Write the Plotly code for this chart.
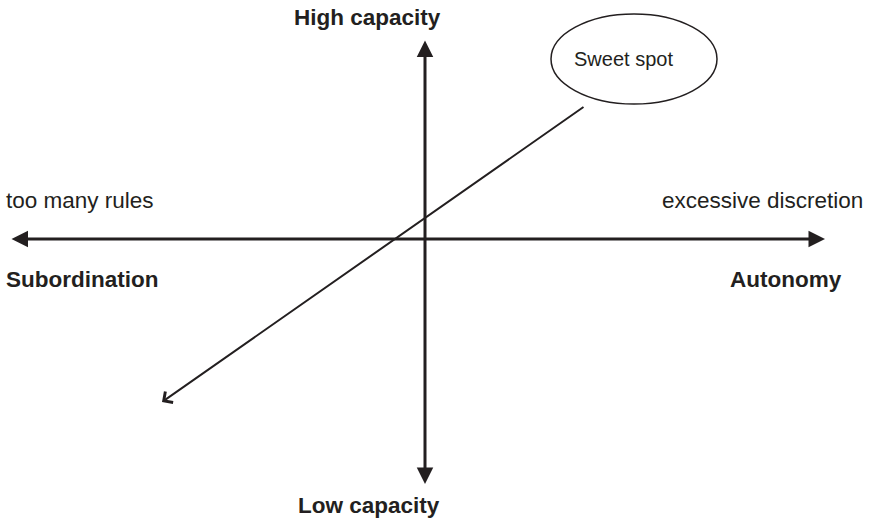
import plotly.graph_objects as go

# Diagram geometry (in a 870 x 521 canvas coordinate system, y downward)
h_axis_x = [10, 825]
h_axis_y = [239, 239]
v_axis_x = [425, 425]
v_axis_y = [39, 484]
diag_x = [585, 162]   # tail, head
diag_y = [106, 402]
ellipse_x = [551, 717]
ellipse_y = [14, 104]

label_text = ["<b>High capacity</b>", "<b>Low capacity</b>", "too many rules",
              "excessive discretion", "<b>Subordination</b>", "<b>Autonomy</b>", "Sweet spot"]
label_x = [367, 369, 4, 865, 4, 844, 623]
label_y = [17, 505, 200, 200, 279, 279, 59]
label_anchor = ["center", "center", "left", "right", "left", "right", "center"]
label_size = [22.5, 22.5, 22.5, 22.5, 22.5, 22.5, 20]

INK = "#231f20"
FONT = "Liberation Sans, Arial, sans-serif"

fig = go.Figure()
fig.add_trace(go.Scatter(x=[0, 870], y=[0, 521], mode="markers",
                         marker=dict(opacity=0), hoverinfo="skip", showlegend=False))

annotations = []
# horizontal axis (double headed)
annotations.append(dict(x=h_axis_x[1], y=h_axis_y[1], ax=h_axis_x[0], ay=h_axis_y[0],
                        xref="x", yref="y", axref="x", ayref="y", text="",
                        showarrow=True, arrowhead=2, startarrowhead=2, arrowside="end+start",
                        arrowsize=1.1, startarrowsize=1.1, arrowwidth=3, arrowcolor=INK))
# vertical axis (double headed)
annotations.append(dict(x=v_axis_x[1], y=v_axis_y[1], ax=v_axis_x[0], ay=v_axis_y[0],
                        xref="x", yref="y", axref="x", ayref="y", text="",
                        showarrow=True, arrowhead=2, startarrowhead=2, arrowside="end+start",
                        arrowsize=1.1, startarrowsize=1.1, arrowwidth=3, arrowcolor=INK))
# diagonal arrow
annotations.append(dict(x=diag_x[1], y=diag_y[1], ax=diag_x[0], ay=diag_y[0],
                        xref="x", yref="y", axref="x", ayref="y", text="",
                        showarrow=True, arrowhead=4, arrowsize=1.3, arrowwidth=2, arrowcolor=INK))

for t, x, y, a, s in zip(label_text, label_x, label_y, label_anchor, label_size):
    annotations.append(dict(x=x, y=y, xref="x", yref="y", text=t, showarrow=False,
                            xanchor=a, yanchor="middle",
                            font=dict(family=FONT, size=s, color=INK)))

fig.update_layout(
    width=870, height=521,
    margin=dict(l=0, r=0, t=0, b=0),
    paper_bgcolor="white", plot_bgcolor="white",
    xaxis=dict(range=[0, 870], visible=False, fixedrange=True),
    yaxis=dict(range=[521, 0], visible=False, fixedrange=True),
    annotations=annotations,
    shapes=[dict(type="circle", xref="x", yref="y",
                 x0=ellipse_x[0], x1=ellipse_x[1], y0=ellipse_y[0], y1=ellipse_y[1],
                 line=dict(color=INK, width=1.5), fillcolor="rgba(0,0,0,0)")],
    showlegend=False,
)

fig.write_html("out.html", config={"displayModeBar": False},
               post_script="document.body.style.margin='0';document.body.style.overflow='hidden';")
